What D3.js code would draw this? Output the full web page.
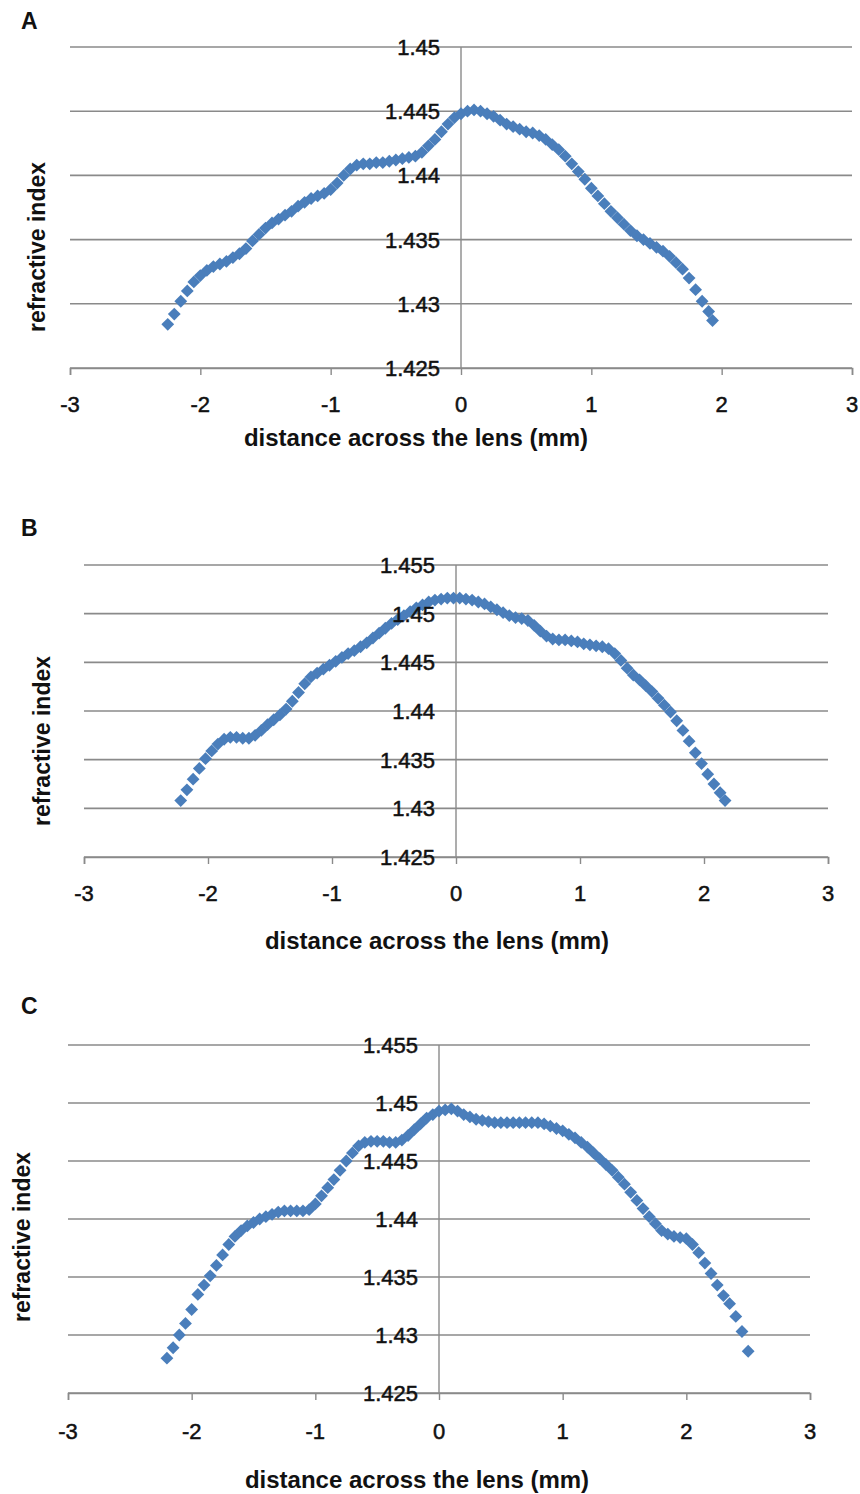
<!DOCTYPE html>
<html>
<head>
<meta charset="utf-8">
<script src="https://cdn.jsdelivr.net/npm/d3@7"></script>
<style>
  html, body { margin: 0; padding: 0; background: #fff; }
  svg { display: block; }
  text { font-family: "Liberation Sans", Arial, sans-serif; fill: #111; }
</style>
</head>
<body>
<svg id="chart" width="860" height="1494"></svg>
<script>
// ---------------- data ----------------
const panelLabels = ["A", "B", "C"];
const xTitle = "distance across the lens (mm)";
const yTitle = "refractive index";
const xTicks = [-3, -2, -1, 0, 1, 2, 3];
const yTicksA = ["1.425", "1.43", "1.435", "1.44", "1.445", "1.45"];
const yTicksBC = ["1.425", "1.43", "1.435", "1.44", "1.445", "1.45", "1.455"];

// [distance (mm), refractive index]
const seriesA = [
  [-2.25,1.4284],[-2.2,1.4292],[-2.15,1.4302],[-2.1,1.4310],[-2.05,1.4317],[-2,1.4322],
  [-1.95,1.4326],[-1.9,1.4329],[-1.85,1.4331],[-1.8,1.4333],[-1.75,1.4336],[-1.7,1.4339],
  [-1.65,1.4343],[-1.6,1.4349],[-1.55,1.4354],[-1.5,1.4359],[-1.45,1.4363],[-1.4,1.4366],
  [-1.35,1.4369],[-1.3,1.4372],[-1.25,1.4376],[-1.2,1.4379],[-1.15,1.4382],[-1.1,1.4384],
  [-1.05,1.4386],[-1,1.4389],[-0.95,1.4394],[-0.9,1.4400],[-0.85,1.4405],[-0.8,1.4408],
  [-0.75,1.4409],[-0.7,1.4409],[-0.65,1.4410],[-0.6,1.4410],[-0.55,1.4411],[-0.5,1.4412],
  [-0.45,1.4413],[-0.4,1.4414],[-0.35,1.4415],[-0.3,1.4418],[-0.25,1.4423],[-0.2,1.4428],
  [-0.15,1.4434],[-0.1,1.4440],[-0.05,1.4445],[0,1.4448],[0.05,1.4450],[0.1,1.4451],
  [0.15,1.4450],[0.2,1.4448],[0.25,1.4446],[0.3,1.4443],[0.35,1.4440],[0.4,1.4438],
  [0.45,1.4436],[0.5,1.4434],[0.55,1.4433],[0.6,1.4431],[0.65,1.4428],[0.7,1.4424],
  [0.75,1.4420],[0.8,1.4415],[0.85,1.4409],[0.9,1.4403],[0.95,1.4397],[1,1.4390],
  [1.05,1.4384],[1.1,1.4378],[1.15,1.4372],[1.2,1.4367],[1.25,1.4362],[1.3,1.4357],
  [1.35,1.4353],[1.4,1.4350],[1.45,1.4347],[1.5,1.4344],[1.55,1.4341],[1.6,1.4337],
  [1.65,1.4332],[1.7,1.4327],[1.75,1.4320],[1.8,1.4311],[1.85,1.4302],[1.9,1.4294],
  [1.93,1.4287]
];

const seriesB = [
  [-2.22,1.4308],[-2.17,1.4319],[-2.12,1.4330],[-2.07,1.4341],[-2.02,1.4351],[-1.97,1.4359],
  [-1.92,1.4366],[-1.87,1.4371],[-1.82,1.4373],[-1.77,1.4373],[-1.72,1.4372],[-1.67,1.4372],
  [-1.62,1.4375],[-1.57,1.4380],[-1.52,1.4386],[-1.47,1.4391],[-1.42,1.4396],[-1.37,1.4402],
  [-1.32,1.4410],[-1.27,1.4419],[-1.22,1.4428],[-1.17,1.4435],[-1.12,1.4439],[-1.07,1.4443],
  [-1.02,1.4447],[-0.97,1.4451],[-0.92,1.4455],[-0.87,1.4459],[-0.82,1.4462],[-0.77,1.4466],
  [-0.72,1.4470],[-0.67,1.4475],[-0.62,1.4480],[-0.57,1.4485],[-0.52,1.4490],[-0.47,1.4494],
  [-0.42,1.4498],[-0.37,1.4502],[-0.32,1.4506],[-0.27,1.4509],[-0.22,1.4512],[-0.17,1.4514],
  [-0.12,1.4515],[-0.07,1.4516],[-0.02,1.4516],[0.03,1.4516],[0.08,1.4515],[0.13,1.4514],
  [0.18,1.4512],[0.23,1.4510],[0.28,1.4507],[0.33,1.4504],[0.38,1.4501],[0.43,1.4498],
  [0.48,1.4496],[0.53,1.4495],[0.58,1.4493],[0.63,1.4488],[0.68,1.4482],[0.73,1.4477],
  [0.78,1.4474],[0.83,1.4473],[0.88,1.4473],[0.93,1.4472],[0.98,1.4471],[1.03,1.4469],
  [1.08,1.4468],[1.13,1.4467],[1.18,1.4466],[1.23,1.4464],[1.28,1.4459],[1.33,1.4452],
  [1.38,1.4444],[1.43,1.4437],[1.48,1.4432],[1.53,1.4426],[1.58,1.4420],[1.63,1.4413],
  [1.68,1.4406],[1.73,1.4399],[1.78,1.4390],[1.83,1.4380],[1.88,1.4369],[1.93,1.4357],
  [1.98,1.4346],[2.03,1.4335],[2.08,1.4325],[2.13,1.4316],[2.17,1.4308]
];

const seriesC = [
  [-2.2,1.4280],[-2.15,1.4289],[-2.1,1.4300],[-2.05,1.4310],[-2,1.4322],[-1.95,1.4335],
  [-1.9,1.4343],[-1.85,1.4351],[-1.8,1.4360],[-1.75,1.4369],[-1.7,1.4378],[-1.65,1.4385],
  [-1.6,1.4390],[-1.55,1.4394],[-1.5,1.4397],[-1.45,1.4400],[-1.4,1.4402],[-1.35,1.4404],
  [-1.3,1.4406],[-1.25,1.4407],[-1.2,1.4407],[-1.15,1.4407],[-1.1,1.4407],[-1.05,1.4408],
  [-1,1.4413],[-0.95,1.4420],[-0.9,1.4427],[-0.85,1.4434],[-0.8,1.4442],[-0.75,1.4450],
  [-0.7,1.4457],[-0.65,1.4463],[-0.6,1.4466],[-0.55,1.4467],[-0.5,1.4467],[-0.45,1.4467],
  [-0.4,1.4466],[-0.35,1.4466],[-0.3,1.4468],[-0.25,1.4472],[-0.2,1.4477],[-0.15,1.4482],
  [-0.1,1.4487],[-0.05,1.4490],[0,1.4493],[0.05,1.4494],[0.1,1.4495],[0.15,1.4493],
  [0.2,1.4490],[0.25,1.4488],[0.3,1.4486],[0.35,1.4485],[0.4,1.4484],[0.45,1.4483],
  [0.5,1.4483],[0.55,1.4483],[0.6,1.4483],[0.65,1.4483],[0.7,1.4483],[0.75,1.4483],
  [0.8,1.4483],[0.85,1.4482],[0.9,1.4480],[0.95,1.4478],[1,1.4476],[1.05,1.4473],
  [1.1,1.4470],[1.15,1.4466],[1.2,1.4462],[1.25,1.4457],[1.3,1.4452],[1.35,1.4447],
  [1.4,1.4442],[1.45,1.4436],[1.5,1.4430],[1.55,1.4423],[1.6,1.4416],[1.65,1.4409],
  [1.7,1.4402],[1.75,1.4396],[1.8,1.4390],[1.85,1.4387],[1.9,1.4385],[1.95,1.4384],
  [2,1.4383],[2.05,1.4378],[2.1,1.4371],[2.15,1.4362],[2.2,1.4353],[2.25,1.4343],
  [2.3,1.4334],[2.35,1.4327],[2.4,1.4316],[2.45,1.4303],[2.5,1.4286]
];

// ---------------- layout ----------------
const panels = [
  { label: panelLabels[0], data: seriesA, yTicks: yTicksA, yMax: 1.45,
    x0: 70, x1: 852, yTop: 47, yBot: 368,
    labelPos: [21, 29], xTitleY: 446, xTitleX: 416, yTitleX: 45, yTitleY: 247, tickLabelDy: 44 },
  { label: panelLabels[1], data: seriesB, yTicks: yTicksBC, yMax: 1.455,
    x0: 84, x1: 828, yTop: 565, yBot: 857,
    labelPos: [21, 536], xTitleY: 949, xTitleX: 437, yTitleX: 50, yTitleY: 741, tickLabelDy: 44 },
  { label: panelLabels[2], data: seriesC, yTicks: yTicksBC, yMax: 1.455,
    x0: 68, x1: 810, yTop: 1045, yBot: 1393,
    labelPos: [21, 1014], xTitleY: 1488, xTitleX: 417, yTitleX: 30, yTitleY: 1237, tickLabelDy: 46 }
];

const svg = d3.select("#chart");
const gridColor = "#8a8a8a";
const markerColor = "#4a7ebb";
const diamond = d3.symbol().type(d3.symbolSquare).size(82);

panels.forEach(p => {
  const x = d3.scaleLinear().domain([-3, 3]).range([p.x0, p.x1]);
  const y = d3.scaleLinear().domain([1.425, p.yMax]).range([p.yBot, p.yTop]);
  const g = svg.append("g");

  // horizontal gridlines
  g.append("g").selectAll("line").data(p.yTicks.map(Number)).join("line")
    .attr("x1", x(-3)).attr("x2", x(3))
    .attr("y1", d => y(d)).attr("y2", d => y(d))
    .attr("stroke", gridColor).attr("stroke-width", 1.6);

  // vertical axis at x = 0
  g.append("line")
    .attr("x1", x(0)).attr("x2", x(0)).attr("y1", y(p.yMax)).attr("y2", y(1.425))
    .attr("stroke", gridColor).attr("stroke-width", 1.4);

  // bottom x axis with ticks
  const xAxis = d3.axisBottom(x).tickValues(xTicks).tickSize(7).tickFormat("");
  const ax = g.append("g").attr("transform", `translate(0,${y(1.425)})`).call(xAxis);
  ax.select(".domain").attr("stroke", gridColor).attr("stroke-width", 1.6);
  ax.selectAll(".tick line").attr("stroke", gridColor).attr("stroke-width", 1.4);

  // data markers (diamonds)
  g.append("g").selectAll("path").data(p.data).join("path")
    .attr("d", diamond)
    .attr("transform", d => `translate(${x(d[0])},${y(d[1])}) rotate(45)`)
    .attr("fill", markerColor);

  // y tick labels (drawn on top)
  g.append("g").selectAll("text").data(p.yTicks).join("text")
    .attr("x", x(0) - 21).attr("y", d => y(+d) + 8)
    .attr("text-anchor", "end")
    .attr("font-size", 22)
    .attr("stroke", "#111").attr("stroke-width", 0.5)
    .text(d => d);

  // x tick labels
  g.append("g").selectAll("text").data(xTicks).join("text")
    .attr("x", d => x(d)).attr("y", y(1.425) + p.tickLabelDy)
    .attr("text-anchor", "middle")
    .attr("font-size", 22)
    .attr("stroke", "#111").attr("stroke-width", 0.5)
    .text(d => d);

  // x title
  g.append("text")
    .attr("x", p.xTitleX).attr("y", p.xTitleY)
    .attr("text-anchor", "middle")
    .attr("font-size", 24).attr("font-weight", "bold")
    .text(xTitle);

  // y title
  g.append("text")
    .attr("transform", `translate(${p.yTitleX},${p.yTitleY}) rotate(-90)`)
    .attr("text-anchor", "middle")
    .attr("font-size", 23).attr("font-weight", "bold")
    .text(yTitle);

  // panel label
  g.append("text")
    .attr("x", p.labelPos[0]).attr("y", p.labelPos[1])
    .attr("font-size", 23).attr("font-weight", "bold")
    .text(p.label);
});
</script>
</body>
</html>
